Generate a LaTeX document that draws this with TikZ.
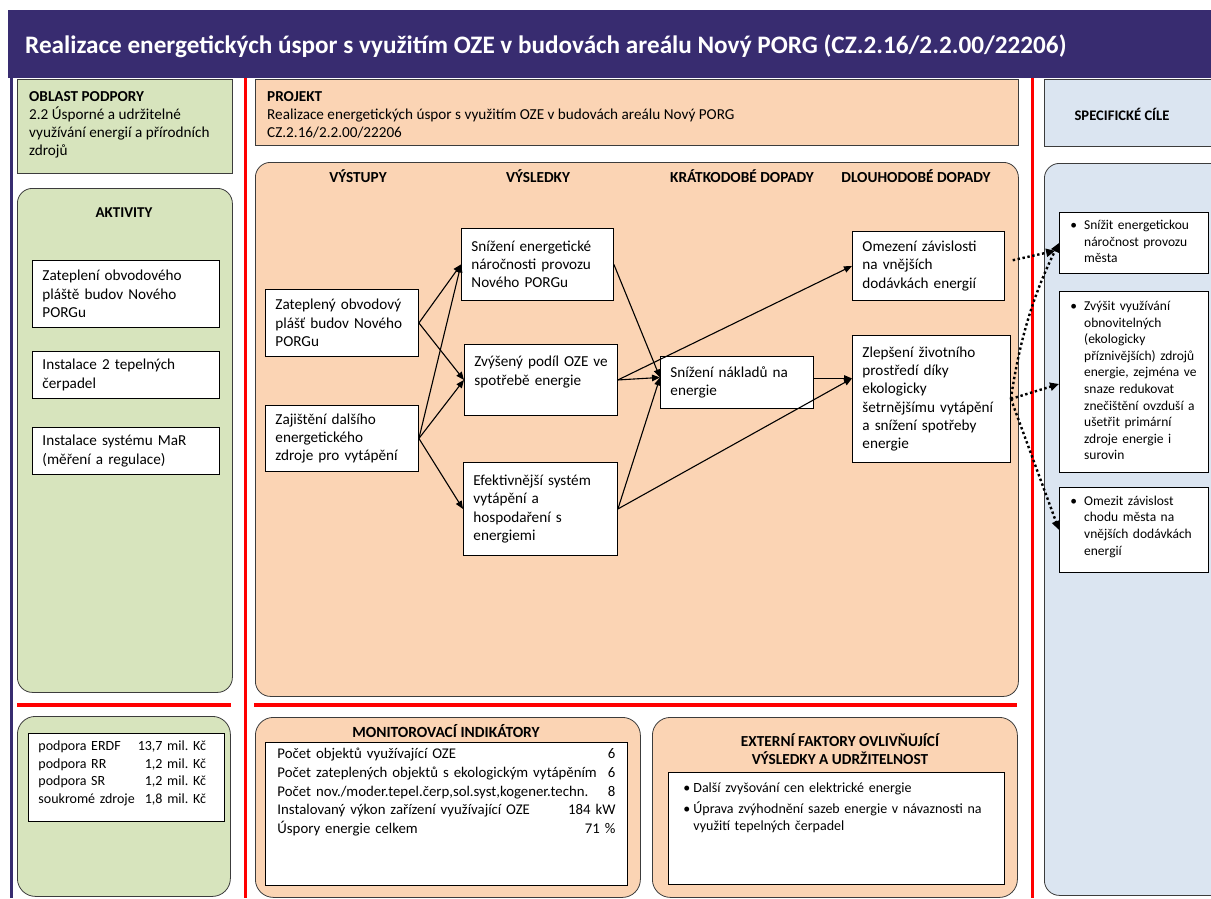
\documentclass[tikz,border=0pt]{standalone}
\usepackage{fontspec}
\setmainfont{Carlito}
\usetikzlibrary{arrows.meta}

\definecolor{bannernavy}{RGB}{56,44,112}
\definecolor{supportgreen}{RGB}{215,228,189}
\definecolor{projectpeach}{RGB}{251,212,180}
\definecolor{goalblue}{RGB}{219,229,241}
\definecolor{panelgray}{RGB}{60,60,60}

\begin{document}
\frenchspacing
\begin{tikzpicture}[x=1pt,y=-1pt,
  panel/.style={draw=panelgray,line width=.8pt,anchor=north west,
    inner sep=0pt},
  roundpanel/.style={panel,rounded corners=15pt},
  entry/.style={draw,fill=white,line width=.9pt,anchor=north west,
    align=left,inner xsep=10pt,inner ysep=3pt,
    font=\fontsize{15.2}{18.3}\selectfont},
  goal/.style={entry,inner xsep=11pt,font=\fontsize{13.5}{16.6}\selectfont},
  heading/.style={font=\fontsize{15.3}{17}\selectfont\bfseries,
    anchor=base,inner sep=0pt},
  bodytext/.style={font=\fontsize{15.2}{18}\selectfont,align=left,
    anchor=north west,inner sep=0pt},
  effect/.style={-{Triangle[length=8pt,width=6.5pt]},line width=1.1pt},
  contribution/.style={-{Triangle[length=9pt,width=8pt]},line width=2.4pt,
    dash pattern=on 2.4pt off 2.6pt},
  divider/.style={draw=red,line width=3pt}
]
\useasboundingbox (0,0) rectangle (1211,898);

% Banner with the project title and the left frame line.
\node[fill=bannernavy,anchor=north west,inner sep=0pt,
  minimum width=1203pt,minimum height=68pt] (banner) at (8,10) {};
\node[font=\fontsize{25.2}{30}\selectfont\bfseries,text=white,
  anchor=west,inner sep=0pt] (title) at (25,46)
  {Realizace energetických úspor s využitím OZE v budovách areálu Nový PORG (CZ.2.16/2.2.00/22206)};
\draw[bannernavy,line width=2.6pt] (11.3,78) -- (11.3,898);

% Coloured panels of the four columns.
\node[panel,fill=supportgreen,minimum width=215pt,minimum height=94pt]
  (support) at (17,79) {};
\node[roundpanel,fill=supportgreen,minimum width=215pt,
  minimum height=504pt] (activities) at (17,188) {};
\node[roundpanel,fill=supportgreen,rounded corners=18pt,
  minimum width=213pt,minimum height=180pt] (budget) at (17,716) {};
\node[panel,fill=projectpeach,minimum width=763pt,minimum height=66pt]
  (project) at (255,79) {};
\node[roundpanel,fill=projectpeach,minimum width=763pt,
  minimum height=534pt] (chain) at (255,162) {};
\node[roundpanel,fill=projectpeach,rounded corners=18pt,
  minimum width=385pt,minimum height=180pt] (monitoring) at (255,717) {};
\node[roundpanel,fill=projectpeach,rounded corners=18pt,
  minimum width=365pt,minimum height=180pt] (external) at (652,717) {};
\node[panel,fill=goalblue,minimum width=190pt,minimum height=67pt]
  (goalhead) at (1044,79) {};
\node[roundpanel,fill=goalblue,minimum width=190pt,minimum height=732pt]
  (goals) at (1044,163) {};

\draw[divider] (245,78) -- (245,898);
\draw[divider] (1032,78) -- (1032,898);
\draw[divider,line width=4pt] (17,705) -- (231,705);
\draw[divider,line width=4pt] (254,705) -- (1017,705);

% Panel titles.
\node[bodytext] (supporttext) at (29,91)
  {\textbf{OBLAST PODPORY}\\2.2 Úsporné a udržitelné\\
   využívání energií a přírodních\\zdrojů};
\node[bodytext] (projecttext) at (267,91)
  {\textbf{PROJEKT}\\
   Realizace energetických úspor s využitím OZE v budovách areálu Nový PORG\\
   CZ.2.16/2.2.00/22206};
\node[heading,anchor=center,font=\fontsize{14.6}{17}\selectfont\bfseries]
  (goalheadtext) at (1122,114) {SPECIFICKÉ CÍLE};
\node[heading,font=\fontsize{15}{17}\selectfont\bfseries]
  (activityhead) at (124,217) {AKTIVITY};
\node[heading] (outputhead) at (358,182.5) {VÝSTUPY};
\node[heading] (resulthead) at (538,182.5) {VÝSLEDKY};
\node[heading] (shorthead) at (742,182.5) {KRÁTKODOBÉ DOPADY};
\node[heading] (longhead) at (916,182.5) {DLOUHODOBÉ DOPADY};
\node[heading,font=\fontsize{15.5}{17}\selectfont\bfseries]
  (monitoringhead) at (446,737) {MONITOROVACÍ INDIKÁTORY};
\node[heading,anchor=center,align=center,
  font=\fontsize{15.3}{18}\selectfont\bfseries]
  (externalhead) at (840,749)
  {EXTERNÍ FAKTORY OVLIVŇUJÍCÍ\\VÝSLEDKY A UDRŽITELNOST};

% Activities.
\node[entry,text width=167pt,minimum height=67pt] (act1) at (32,260)
  {Zateplení obvodového\\pláště budov Nového\\PORGu};
\node[entry,text width=167pt,minimum height=47pt] (act2) at (32,351)
  {Instalace 2 tepelných\\čerpadel};
\node[entry,text width=167pt,minimum height=47pt] (act3) at (32,427)
  {Instalace systému MaR\\(měření a regulace)};

% Outputs, results and impacts.
\node[entry,text width=133pt,minimum height=67pt] (out1) at (265,289)
  {Zateplený obvodový\\plášť budov Nového\\PORGu};
\node[entry,text width=133pt,minimum height=66pt] (out2) at (265,405)
  {Zajištění dalšího\\energetického\\zdroje pro vytápění};
\node[entry,text width=132pt,minimum height=72pt] (res1) at (461,228)
  {Snížení energetické\\náročnosti provozu\\Nového PORGu};
\node[entry,text width=133pt,minimum height=71pt] (res2) at (464,344)
  {\mbox{Zvýšený podíl OZE ve}\\spotřebě energie\\\mbox{}};
\node[entry,text width=134pt,minimum height=93pt] (res3) at (463,462)
  {Efektivnější systém\\vytápění a\\hospodaření s\\energiemi};
\node[entry,text width=133pt,minimum height=52pt] (short1) at (660,356)
  {Snížení nákladů na\\energie};
\node[entry,text width=132pt,minimum height=69pt] (long1) at (852,231)
  {Omezení závislosti\\na vnějších\\dodávkách energií};
\node[entry,text width=138pt,minimum height=127pt] (long2) at (852,335)
  {Zlepšení životního\\prostředí díky\\ekologicky\\šetrnějšímu vytápění\\
   a snížení spotřeby\\energie};

% Specific goals.
\node[goal,text width=127pt,minimum height=61pt] (goal1) at (1059,212)
  {\begin{tabular}{@{}l@{\hspace{7pt}}l@{}}
   \textbullet & Snížit energetickou\\ & náročnost provozu\\ & města
   \end{tabular}};
\node[goal,text width=127pt,minimum height=181pt] (goal2) at (1059,291)
  {\begin{tabular}{@{}l@{\hspace{7pt}}l@{}}
   \textbullet & Zvýšit využívání\\ & obnovitelných\\ & (ekologicky\\
   & příznivějších) zdrojů\\ & energie, zejména ve\\ & snaze redukovat\\
   & znečištění ovzduší a\\ & ušetřit primární\\ & zdroje energie i\\
   & surovin
   \end{tabular}};
\node[goal,text width=127pt,minimum height=85pt] (goal3) at (1059,487)
  {\begin{tabular}{@{}l@{\hspace{7pt}}l@{}}
   \textbullet & Omezit závislost\\ & chodu města na\\
   & vnějších dodávkách\\ & energií\\[6pt]
   \end{tabular}};

% Budget, indicators and external factors.
\node[entry,text width=176pt,minimum height=88pt,
  font=\fontsize{14}{17.7}\selectfont] (funds) at (28,733)
  {\begin{tabular}{@{}l@{\hspace{3pt}}r@{}}
   podpora ERDF & 13,7 mil. Kč\\ podpora RR & 1,2 mil. Kč\\
   podpora SR & 1,2 mil. Kč\\ soukromé zdroje & 1,8 mil. Kč\\[8pt]
   \end{tabular}};
\node[entry,inner xsep=12pt,text width=338pt,minimum height=143pt,
  font=\fontsize{14.8}{18.7}\selectfont] (indicators) at (265,742)
  {\begin{tabular}{@{}p{338pt}@{}}
   Počet objektů využívající OZE\hfill 6\\
   Počet zateplených objektů s ekologickým vytápěním\hfill 6\\
   Počet nov./moder.tepel.čerp,sol.syst,kogener.techn.\hfill 8\\
   Instalovaný výkon zařízení využívající OZE\hfill 184 kW\\
   Úspory energie celkem\hfill 71 \%\\[43pt]
   \end{tabular}};
\node[entry,inner xsep=15pt,inner ysep=8pt,text width=306pt,
  minimum height=112pt,font=\fontsize{14}{17}\selectfont]
  (factors) at (668,772)
  {\begin{tabular}{@{}l@{\hspace{3pt}}l@{}}
   \textbullet & Další zvyšování cen elektrické energie\\[4pt]
   \textbullet & Úprava zvýhodnění sazeb energie v návaznosti na\\
   & využití tepelných čerpadel\\[41pt]
   \end{tabular}};

% Result chain.
\foreach \target in {res1,res2}
  \draw[effect] (out1.east) -- (\target.west);
\foreach \target in {res1,res2,res3}
  \draw[effect] (out2.east) -- (\target.west);
\foreach \source in {res1,res2,res3}
  \draw[effect] (\source.east) -- ([yshift=5pt]short1.west);
\draw[effect] (res2.east) -- (long1.west);
\draw[effect] (res3.east) -- ([yshift=20.5pt]long2.west);
\draw[effect] ([yshift=4pt]short1.east) -- ([yshift=20.5pt]long2.west);

% Contributions to the specific goals.
\draw[contribution,shorten <=8pt,shorten >=4pt]
  ([yshift=4pt]long1.east) -- ([yshift=-7pt]goal1.west);
\draw[contribution] (long2.east)
  .. controls +(10,-70) and +(-20,40) .. (goal1.west);
\draw[contribution] (long2.east) -- ([yshift=-2pt]goal2.west);
\draw[contribution] (long2.east) -- (goal3.west);
\end{tikzpicture}
\end{document}
